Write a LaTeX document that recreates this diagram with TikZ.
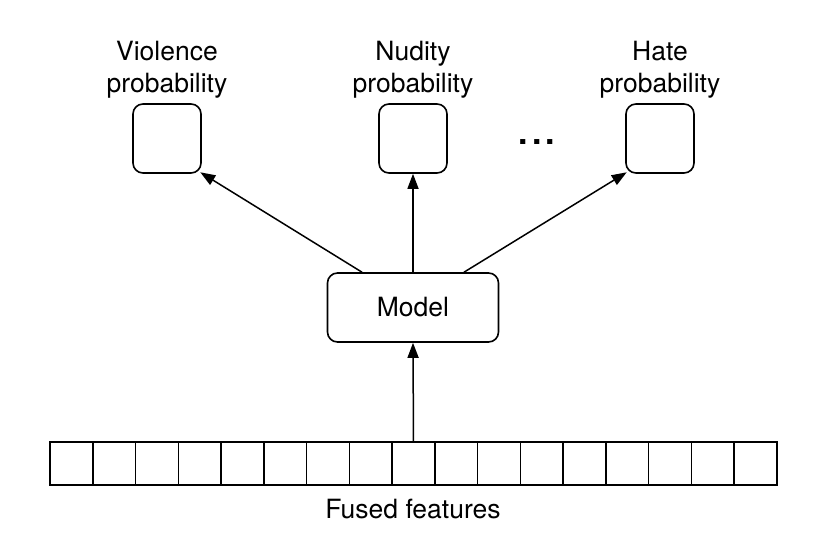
\documentclass[tikz,border=0pt]{standalone}
\usepackage{fontspec}
\setmainfont{TeX Gyre Heros}
\usetikzlibrary{arrows.meta,calc}

\tikzset{
  probbox/.style={draw, line width=1.6pt, rounded corners=10pt, minimum width=68pt, minimum height=69pt, inner sep=0pt},
  modelbox/.style={draw, line width=1.6pt, rounded corners=10pt, minimum width=171pt, minimum height=69pt},
  cell/.style={draw, line width=1.6pt, minimum width=42.76pt, minimum height=43pt, inner sep=0pt},
  lbl/.style={align=center, font=\fontsize{26.5}{32}\selectfont},
  flow/.style={-{Triangle[length=15pt,width=11pt]}, line width=1.5pt}
}

\begin{document}
\begin{tikzpicture}[x=1pt, y=-1pt]
  \useasboundingbox (0, 0) rectangle (820, 538);

  \node[probbox] (viol) at (167, 138.5) {};
  \node[probbox] (nude) at (413, 138.5) {};
  \node[probbox] (hate) at (660, 138.5) {};

  \node[lbl, anchor=south] (violtxt) at (167, 102) {Violence\\probability};
  \node[lbl, anchor=south] (nudetxt) at (413, 102) {Nudity\\probability};
  \node[lbl, anchor=south] (hatetxt) at (660, 102) {Hate\\probability};
  \node[anchor=base, inner sep=0pt, font=\fontsize{34}{34}\selectfont\bfseries] (dots) at (537, 144.5) {.\hspace{4pt}.\hspace{4pt}.};

  \node[modelbox, lbl] (model) at (413, 307.5) {Model};

  % feature vector
  \foreach \i in {0,...,16}
    \node[cell] (c\i) at ({71.4 + \i*42.76}, 463.5) {};
  \node[lbl, anchor=north] (fused) at (413, 495.5) {Fused features};

  \draw[flow] (c8.north) -- (model.south);
  \draw[flow] ($(model.north)+(-51,0)$) -- ($(viol.south east)+(-1.5,-1.5)$);
  \draw[flow] (model.north) -- (nude.south);
  \draw[flow] ($(model.north)+(51,0)$) -- ($(hate.south west)+(1.5,-1.5)$);
\end{tikzpicture}
\end{document}
